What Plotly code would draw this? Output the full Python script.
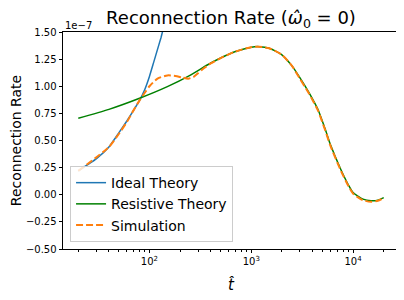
import plotly.graph_objects as go

# time values and rates (units of 1e-7)
t_ideal = [20, 30, 40, 50, 60, 70, 80, 90, 100, 110, 120, 130, 140, 150]
r_ideal = [0.22, 0.33, 0.44, 0.57, 0.68, 0.78, 0.87, 0.97, 1.09, 1.22, 1.34, 1.45, 1.57, 1.70]

t_resist = [20, 40, 80, 150, 250, 370, 500, 700, 1000, 1200, 1500, 2000, 2500, 3000, 3700,
            4500, 5300, 6000, 7600, 9000, 10000, 12500, 15000, 17500, 20000]
r_resist = [0.705, 0.787, 0.889, 0.996, 1.10, 1.196, 1.26, 1.32, 1.36, 1.365, 1.35, 1.29,
            1.19, 1.08, 0.94, 0.79, 0.61, 0.46, 0.23, 0.09, 0.02, -0.04, -0.055, -0.05, -0.027]

t_sim = [20, 40, 50, 60, 70, 80, 90, 100, 120, 150, 180, 210, 240, 270, 300, 330, 400, 500, 700,
         1000, 1200, 1500, 2000, 2500, 3000, 3700, 4500, 5300, 6000, 7600, 9000, 10000,
         12500, 15000, 17500, 20000]
r_sim = [0.22, 0.44, 0.56, 0.67, 0.78, 0.87, 0.94, 1.00, 1.07, 1.10, 1.095, 1.08, 1.07, 1.085,
         1.12, 1.155, 1.21, 1.26, 1.32, 1.36, 1.365, 1.35, 1.29, 1.19, 1.07, 0.93, 0.78, 0.60, 0.45,
         0.22, 0.08, 0.01, -0.05, -0.065, -0.055, -0.03]

y_ticks = [1.5, 1.25, 1.0, 0.75, 0.5, 0.25, 0.0, -0.25, -0.5]
x_ticks = [100, 1000, 10000]
x_ticktext = ["10<sup>2</sup>", "10<sup>3</sup>", "10<sup>4</sup>"]

minor_vals = [m * 10 ** e for e in (1, 2, 3, 4) for m in range(2, 10)]

fig = go.Figure()
fig.add_trace(go.Scatter(x=t_ideal, y=r_ideal, mode="lines", name="Ideal Theory",
                         line=dict(color="#1f77b4", width=1.5, shape="spline", smoothing=0.4)))
fig.add_trace(go.Scatter(x=t_resist, y=r_resist, mode="lines", name="Resistive Theory",
                         line=dict(color="green", width=1.5, shape="spline", smoothing=0.6)))
fig.add_trace(go.Scatter(x=t_sim, y=r_sim, mode="lines", name="Simulation",
                         line=dict(color="#ff7f0e", width=2, dash="7px,3px", shape="spline", smoothing=0.6)))

font = "DejaVu Sans"
W, H = 396, 292
fig.update_layout(
    width=W, height=H,
    margin=dict(l=55, r=5, t=24, b=51, autoexpand=False),
    paper_bgcolor="white", plot_bgcolor="white",
    font=dict(family=font, color="black", size=10),
    title=dict(text="Reconnection Rate (<i>ω̂</i><sub>0</sub> = 0)", x=0.5, xanchor="center",
               xref="paper", y=1 - 10 / H, yanchor="middle", font=dict(size=18)),
    showlegend=True,
    legend=dict(x=0.021, y=0.032, xanchor="left", yanchor="bottom", bgcolor="rgba(255,255,255,0.8)",
                bordercolor="#cccccc", borderwidth=1, font=dict(size=14), tracegroupgap=0,
                itemwidth=30),
)
fig.update_xaxes(type="log", range=[1.151, 4.451], tickvals=x_ticks, ticktext=x_ticktext,
                 ticks="outside", ticklen=3.5, tickwidth=0.8, tickcolor="black", automargin=False,
                 showline=True, linecolor="black", linewidth=0.8, mirror=True,
                 showgrid=False, zeroline=False,
                 minor=dict(tickvals=minor_vals, ticks="outside", ticklen=2, tickwidth=0.6,
                            tickcolor="black", showgrid=False),
                 title=dict(text="<i>t̂</i>", font=dict(size=15), standoff=13))
fig.update_yaxes(range=[-0.5, 1.5], tickvals=y_ticks, tickformat=".2f", automargin=False,
                 ticks="outside", ticklen=3.5, tickwidth=0.8, tickcolor="black",
                 showline=True, linecolor="black", linewidth=0.8, mirror=True,
                 showgrid=False, zeroline=False,
                 title=dict(text="Reconnection Rate", font=dict(size=14), standoff=3))
fig.add_annotation(text="1e−7", xref="paper", yref="paper", x=0, y=1, xanchor="left",
                   yanchor="bottom", showarrow=False, font=dict(size=10), yshift=-1)
fig.write_html("out.html")
